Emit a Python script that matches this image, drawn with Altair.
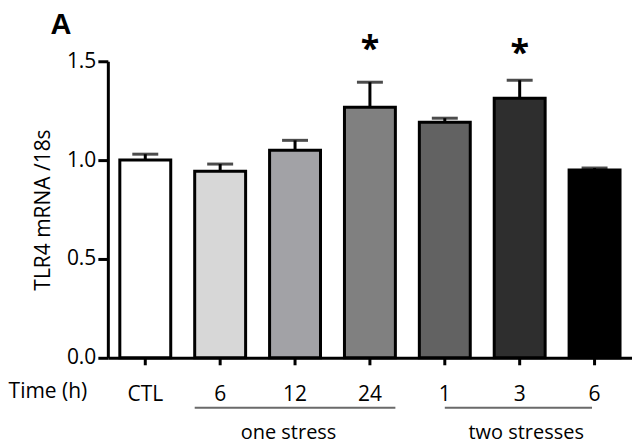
import altair as alt
import pandas as pd

# ---- data ----
keys = ["CTL", "s6", "s12", "s24", "t1", "t3", "t6"]
means = [1.00, 0.944, 1.05, 1.268, 1.192, 1.313, 0.95]
sems = [0.03, 0.036, 0.05, 0.126, 0.02, 0.091, 0.01]
fills = ["#ffffff", "#d7d7d7", "#a2a2a6", "#808080", "#626262", "#2e2e2e", "#000000"]

star_keys = ["s24", "t3"]
star_level = [1.505, 1.485]

FONT = "Open Sans"
FS = 21

df = pd.DataFrame({"key": keys, "mean": means, "sem": sems})
df["upper"] = df["mean"] + df["sem"]
stars = pd.DataFrame({"key": star_keys, "level": star_level})

xscale = alt.Scale(domain=keys, paddingInner=0.32, paddingOuter=0.16)
yscale = alt.Scale(domain=[0, 1.5], nice=False)

xaxis = alt.Axis(
    title=None, labelAngle=0, labelFont=FONT, labelFontSize=FS, labelColor="black",
    labelExpr="datum.value == 'CTL' ? 'CTL' : slice(datum.value, 1)",
    tickColor="black", tickWidth=3, tickSize=7, domainColor="black", domainWidth=3,
    labelPadding=19, grid=False,
)
yaxis = alt.Axis(
    title="TLR4 mRNA /18s", values=[0, 0.5, 1.0, 1.5], format=".1f",
    labelFont=FONT, labelFontSize=FS, labelColor="black", labelPadding=2,
    tickColor="black", tickWidth=3, tickSize=10, domainColor="black", domainWidth=3,
    grid=False, titleFont=FONT, titleFontSize=FS, titleFontWeight="normal",
    titleColor="black", titleX=-64, titleY=148.5, titleAngle=270,
    titleAlign="center", titleBaseline="middle",
)

base = alt.Chart(df)

bars = base.mark_bar(stroke="black", strokeWidth=3).encode(
    x=alt.X("key:N", scale=xscale, axis=xaxis, sort=keys),
    y=alt.Y("mean:Q", scale=yscale, axis=yaxis),
    fill=alt.Fill("key:N", scale=alt.Scale(domain=keys, range=fills), legend=None),
)

err = base.mark_rule(color="black", strokeWidth=3).encode(
    x=alt.X("key:N", scale=xscale),
    y=alt.Y("mean:Q", scale=yscale),
    y2="upper:Q",
)

caps = base.mark_tick(color="black", thickness=3, size=26).encode(
    x=alt.X("key:N", scale=xscale),
    y=alt.Y("upper:Q", scale=yscale),
)

star_marks = alt.Chart(stars).mark_text(
    text="*", font=FONT, fontSize=34, fontWeight="bold", color="black",
    baseline="alphabetic",
).encode(
    x=alt.X("key:N", scale=xscale),
    y=alt.Y("level:Q", scale=yscale),
)

line1 = alt.Chart(alt.Data(values=[{"a": "s6", "b": "s24"}])).mark_rule(
    color="#6a6a6a", strokeWidth=2
).encode(
    x=alt.X("a:N", scale=xscale, bandPosition=0),
    x2=alt.X2("b:N", bandPosition=1),
    y=alt.value(347),
)
line2 = alt.Chart(alt.Data(values=[{"a": "t1", "b": "t6"}])).mark_rule(
    color="#6a6a6a", strokeWidth=2
).encode(
    x=alt.X("a:N", scale=xscale, bandPosition=0.5),
    x2=alt.X2("b:N", bandPosition=0.45),
    y=alt.value(347),
)


def label(txt, x, y, size=FS, weight="normal", align="center"):
    return alt.Chart(alt.Data(values=[{}])).mark_text(
        text=txt, font=FONT, fontSize=size, fontWeight=weight, color="black",
        align=align, baseline="middle",
    ).encode(x=alt.value(x), y=alt.value(y))


time_lbl = label("Time (h)", -60, 331)
one_lbl = label("one stress", 181, 372, size=20)
two_lbl = label("two stresses", 419, 372, size=20)
panel = alt.Chart(alt.Data(values=[{}])).mark_text(
    text="A", font="Liberation Sans", fontSize=29, fontWeight="bold", color="black",
    align="center", baseline="alphabetic",
).encode(x=alt.value(-47), y=alt.value(-27))

chart = alt.layer(
    bars, err, caps, star_marks, line1, line2, time_lbl, one_lbl, two_lbl, panel
).properties(
    width=525, height=297,
    autosize=alt.AutoSizeParams(type="none"),
    padding={"left": 100, "top": 53, "right": 0, "bottom": 90},
).configure_view(stroke=None)

chart.save("out.html", embed_options={"renderer": "svg", "actions": False})
